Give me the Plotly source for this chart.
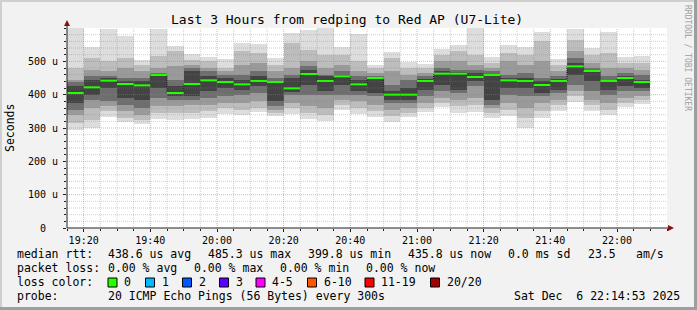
import plotly.graph_objects as go
import pandas as pd

# ---------------- data ----------------
bar_start = pd.date_range("2025-12-06 19:15", periods=35, freq="5min")

median_us = [405, 422, 442, 432, 428, 459, 405, 432, 443, 438, 431, 441, 438, 419, 462,
             441, 455, 431, 450, 400, 400, 441, 463, 463, 453, 459, 443, 441, 429, 441,
             485, 471, 441, 450, 438]

l1_lo = [295, 299, 334, 317, 311, 327, 325, 328, 330, 342, 339, 349, 335, 342, 327, 320, 355, 342,
         332, 319, 332, 347, 362, 345, 347, 329, 337, 299, 329, 352, 379, 352, 339, 362, 372]
l1_hi = [600, 542, 598, 577, 505, 596, 545, 523, 512, 508, 554, 553, 509, 585, 595, 602, 544, 582,
         490, 529, 497, 492, 537, 549, 599, 512, 549, 542, 587, 507, 597, 539, 589, 512, 515]
l2_lo = [315, 325, 350, 330, 325, 345, 345, 345, 350, 360, 355, 360, 345, 360, 345, 340, 370, 360,
         350, 335, 345, 360, 375, 365, 370, 345, 355, 330, 350, 370, 395, 370, 355, 375, 385]
l2_hi = [480, 510, 500, 510, 490, 515, 530, 505, 500, 480, 530, 525, 490, 555, 535, 520, 520, 500,
         480, 510, 480, 480, 520, 530, 520, 495, 525, 520, 560, 490, 565, 520, 525, 495, 495]
l3_lo = [340, 360, 365, 350, 340, 365, 365, 370, 370, 375, 375, 380, 355, 375, 365, 360, 385, 380,
         370, 355, 360, 375, 390, 385, 390, 360, 375, 360, 375, 385, 410, 385, 375, 390, 395]
l3_hi = [445, 475, 470, 480, 470, 480, 485, 490, 480, 470, 490, 495, 470, 480, 500, 480, 490, 470,
         465, 470, 460, 465, 500, 500, 490, 480, 500, 490, 500, 470, 530, 495, 480, 480, 475]
l4_lo = [355, 385, 380, 370, 360, 390, 385, 385, 390, 395, 400, 405, 365, 400, 400, 400, 400, 400,
         395, 375, 375, 395, 410, 405, 425, 370, 400, 395, 395, 405, 430, 410, 400, 410, 410]
l4_hi = [437, 455, 455, 450, 450, 465, 445, 480, 470, 460, 460, 470, 450, 460, 485, 460, 470, 455,
         455, 430, 445, 455, 480, 475, 475, 470, 460, 465, 450, 455, 510, 480, 455, 465, 460]
l5_lo = [375, 400, 420, 390, 385, 420, 395, 395, 410, 420, 415, 425, 380, 408, 430, 410, 430, 410,
         405, 385, 385, 415, 430, 415, 440, 385, 420, 420, 405, 415, 460, 440, 415, 425, 420]
l5_hi = [425, 445, 450, 440, 440, 462, 425, 470, 455, 450, 445, 455, 440, 450, 475, 455, 460, 445,
         450, 410, 420, 448, 470, 468, 465, 462, 450, 450, 440, 448, 495, 472, 445, 455, 445]

y_tick_vals = [0, 100, 200, 300, 400, 500]
y_tick_text = ["0\u00a0\u00a0", "100 u", "200 u", "300 u", "400 u", "500 u"]

loss_labels = ["0", "1", "2", "3", "4-5", "6-10", "11-19", "20/20"]
loss_colors = ["#26ff00", "#00b8ff", "#0059ff", "#5e00ff", "#ff00ff", "#ff5500", "#ff0000", "#a10000"]

# ---------------- geometry helpers ----------------
W, H = 697, 310
PL, PR, PT, PB = 67, 667, 28, 228
STEP = pd.Timedelta("5min")
X0 = pd.Timestamp("2025-12-06 19:15")
X1 = pd.Timestamp("2025-12-06 22:15")


def pxx(px):
    return (px - PL) / (PR - PL)


def pxy(py):
    return (PB - py) / (PB - PT)


MONO = "DejaVu Sans Mono"

fig = go.Figure()

centers = bar_start + STEP / 2
layers = [(l1_lo, l1_hi, "#dddddd"), (l2_lo, l2_hi, "#bdbdbd"), (l3_lo, l3_hi, "#9a9a9a"),
          (l4_lo, l4_hi, "#6e6e6e"), (l5_lo, l5_hi, "#434343")]
for lo, hi, col in layers:
    fig.add_trace(go.Bar(x=centers, base=lo, y=[h - l for l, h in zip(lo, hi)],
                         width=STEP.total_seconds() * 1000,
                         marker=dict(color=col, line=dict(width=0)),
                         hoverinfo="skip", showlegend=False))

# dark step connector of the median
step_x = list(bar_start) + [bar_start[-1] + STEP]
step_y = median_us + [median_us[-1]]
fig.add_trace(go.Scatter(x=step_x, y=step_y, mode="lines", line_shape="hv",
                         line=dict(color="#101010", width=1, dash="1px,1px"),
                         hoverinfo="skip", showlegend=False))

# green median segments
gx, gy = [], []
for s, m in zip(bar_start, median_us):
    gx += [s, s + STEP, None]
    gy += [m, m, None]
fig.add_trace(go.Scatter(x=gx, y=gy, mode="lines", line=dict(color="#26ff00", width=2),
                         hoverinfo="skip", showlegend=False))

shapes = []
MAJ = "rgba(235,90,90,0.5)"
MIN = "rgba(130,130,130,0.38)"
# grid lines above traces
t = X0 + STEP
while t < X1:
    major = (t.minute % 20 == 0)
    shapes.append(dict(type="line", xref="x", yref="paper", x0=t, x1=t, y0=0, y1=1, layer="above",
                       line=dict(color=MAJ if major else MIN, width=1, dash="1px,1px")))
    t += STEP
for v in range(20, 600, 20):
    major = (v % 100 == 0)
    shapes.append(dict(type="line", xref="paper", yref="y", x0=0, x1=1, y0=v, y1=v, layer="above",
                       line=dict(color=MAJ if major else MIN, width=1, dash="1px,1px")))

# axis lines and arrows
axc = "#202020"
arrc = "#8b1010"
shapes.append(dict(type="line", xref="paper", yref="paper", x0=pxx(PL), x1=pxx(670), y0=0, y1=0,
                   layer="above", line=dict(color=axc, width=1)))
shapes.append(dict(type="line", xref="paper", yref="paper", x0=0, x1=0, y0=0, y1=pxy(24),
                   layer="above", line=dict(color=axc, width=1)))
shapes.append(dict(type="path", xref="paper", yref="paper", layer="above",
                   path=f"M {pxx(668)},{pxy(225)} L {pxx(674)},{pxy(228)} L {pxx(668)},{pxy(231)} Z",
                   fillcolor=arrc, line=dict(color=arrc, width=0)))
shapes.append(dict(type="path", xref="paper", yref="paper", layer="above",
                   path=f"M {pxx(64)},{pxy(26)} L {pxx(67)},{pxy(20)} L {pxx(70)},{pxy(26)} Z",
                   fillcolor=arrc, line=dict(color=arrc, width=0)))

# outer frame shading
shapes.append(dict(type="rect", xref="paper", yref="paper", x0=pxx(0), x1=pxx(W), y0=pxy(0), y1=pxy(2),
                   fillcolor="#cfcfcf", line=dict(width=0), layer="above"))
shapes.append(dict(type="rect", xref="paper", yref="paper", x0=pxx(0), x1=pxx(2), y0=pxy(0), y1=pxy(H),
                   fillcolor="#cfcfcf", line=dict(width=0), layer="above"))
shapes.append(dict(type="rect", xref="paper", yref="paper", x0=pxx(0), x1=pxx(W), y0=pxy(H - 3), y1=pxy(H),
                   fillcolor="#9e9e9e", line=dict(width=0), layer="above"))
shapes.append(dict(type="rect", xref="paper", yref="paper", x0=pxx(W - 3), x1=pxx(W), y0=pxy(0), y1=pxy(H),
                   fillcolor="#9e9e9e", line=dict(width=0), layer="above"))

# loss colour boxes
box_x = [108, 145.5, 182.5, 219.5, 256, 307.5, 365, 430.5]
for bx, col in zip(box_x, loss_colors):
    shapes.append(dict(type="rect", xref="paper", yref="paper", x0=pxx(bx), x1=pxx(bx + 9),
                       y0=pxy(278), y1=pxy(287), fillcolor=col, line=dict(color="#000000", width=1)))

annotations = []


def txt(s, px, py, size=11.5, color="#000000", angle=0, xanchor="left"):
    annotations.append(dict(text=s, xref="paper", yref="paper", x=pxx(px), y=pxy(py),
                            xanchor=xanchor, yanchor="middle", showarrow=False, textangle=angle,
                            font=dict(family=MONO, size=size, color=color), borderpad=0))


row1 = [("median rtt:", 16), ("438.6 us avg", 107), ("485.3 us max", 207), ("399.8 us min", 307),
        ("435.8 us now", 407), ("0.0 ms sd", 507), ("23.5", 587), ("am/s", 635)]
row2 = [("packet loss:", 16), ("0.00 % avg", 107), ("0.00 % max", 193), ("0.00 % min", 279),
        ("0.00 % now", 365)]
row4 = [("probe:", 16), ("20 ICMP Echo Pings (56 Bytes) every 300s", 107),
        ("Sat Dec\u00a0\u00a06 22:14:53 2025", 513)]
for s, x in row1:
    txt(s, x, 254)
for s, x in row2:
    txt(s, x, 268)
txt("loss color:", 16, 282)
for lab, bx in zip(loss_labels, box_x):
    txt(lab, bx + 15, 282)
for s, x in row4:
    txt(s, x, 296)

txt("Last 3 Hours from redping to Red AP (U7-Lite)", 347, 19, size=13, xanchor="center")
txt("Seconds", 10, 128, size=11.5, angle=-90, xanchor="center")
txt("RRDTOOL / TOBI OETIKER", 688, 58, size=8, color="#a0a0a0", angle=90, xanchor="center")

fig.update_layout(
    width=W, height=H,
    margin=dict(l=PL, r=W - PR, t=PT, b=H - PB, pad=0),
    paper_bgcolor="#f2f2f2", plot_bgcolor="#ffffff",
    barmode="overlay", bargap=0, showlegend=False,
    shapes=shapes, annotations=annotations,
    font=dict(family=MONO, size=10, color="#000000"),
)
fig.update_xaxes(type="date", range=[X0, X1], showgrid=False, zeroline=False, showline=False,
                 tick0="2025-12-06 19:20", dtick=20 * 60 * 1000, tickformat="%H:%M",
                 ticks="outside", ticklen=3, tickcolor=axc,
                 minor=dict(dtick=5 * 60 * 1000, ticks="outside", ticklen=2, tickcolor=axc, showgrid=False),
                 tickfont=dict(family=MONO, size=10, color="#000000"))
fig.update_yaxes(range=[0, 600], showgrid=False, zeroline=False, showline=False,
                 tickvals=y_tick_vals, ticktext=y_tick_text,
                 ticks="outside", ticklen=3, tickcolor=axc, ticklabelstandoff=3,
                 minor=dict(dtick=20, ticks="outside", ticklen=2, tickcolor=axc, showgrid=False),
                 tickfont=dict(family=MONO, size=10, color="#000000"))

fig.write_html("out.html")
